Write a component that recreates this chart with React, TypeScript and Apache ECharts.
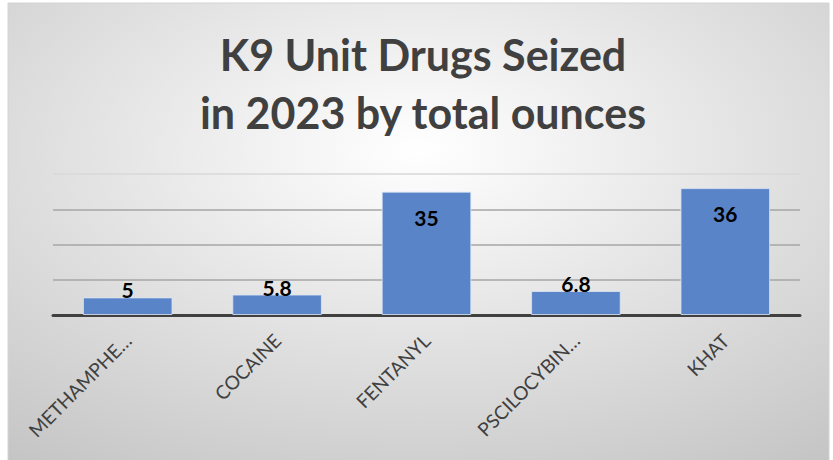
import React, { useEffect, useRef } from "react";
import * as echarts from "echarts";

const categories = ["METHAMPHE…", "COCAINE", "FENTANYL", "PSCILOCYBIN…", "KHAT"];
const ounces = [5, 5.8, 35, 6.8, 36];
const yMin = 0;
const yMax = 40;
const yInterval = 10;
const titleText = "K9 Unit Drugs Seized\nin 2023 by total ounces";

export default function App() {
  const ref = useRef<HTMLDivElement>(null);
  useEffect(() => {
    if (!ref.current) return;
    const chart = echarts.init(ref.current, undefined, { renderer: "svg" });
    const font = "Lato, 'Open Sans', sans-serif";
    chart.setOption({
      animation: false,
      graphic: [
        {
          type: "rect",
          z: -100,
          silent: true,
          shape: { x: 8, y: 3, width: 821, height: 458 },
          style: {
            fill: {
              type: "radial",
              x: 0.5,
              y: 0.32,
              r: 0.95,
              colorStops: [
                { offset: 0, color: "#ffffff" },
                { offset: 1, color: "#bdbdbd" },
              ],
            },
            stroke: "#d4d4d4",
            lineWidth: 1,
          },
        },
      ],
      title: {
        text: titleText,
        left: 418,
        top: 20,
        textAlign: "center",
        textStyle: {
          fontFamily: font,
          fontWeight: "bold",
          fontSize: 43,
          lineHeight: 58,
          color: "#404040",
        },
      },
      grid: { left: 53, right: 33, top: 174, bottom: 145, containLabel: false },
      xAxis: {
        type: "category",
        data: categories,
        axisLine: { show: true, lineStyle: { color: "#404040", width: 3 } },
        axisTick: { show: false },
        axisLabel: {
          rotate: 45,
          interval: 0,
          margin: 22,
          fontFamily: font,
          fontSize: 19,
          color: "#404040",
        },
      },
      yAxis: {
        type: "value",
        min: yMin,
        max: yMax,
        interval: yInterval,
        axisLine: { show: false },
        axisTick: { show: false },
        axisLabel: { show: false },
        splitLine: {
          show: true,
          lineStyle: {
            color: ["#a6a6a6", "#a6a6a6", "#a6a6a6", "#a6a6a6", "#d9d9d9"],
            width: 1.5,
          },
        },
      },
      series: [
        {
          type: "bar",
          data: ounces.map((v) => ({
            value: v,
            label:
              v > 20
                ? { position: "insideTop", distance: 15 }
                : { position: "top", distance: -3 },
          })),
          barWidth: "60%",
          itemStyle: {
            color: "#5a84c8",
            borderColor: "rgba(220,230,245,0.8)",
            borderWidth: 1,
          },
          label: {
            show: true,
            fontFamily: font,
            fontWeight: "bold",
            fontSize: 21,
            color: "#000000",
          },
        },
      ],
    });
    return () => chart.dispose();
  }, []);
  return (
    <div
      ref={ref}
      style={{ position: "absolute", left: 0, top: 0, width: 833, height: 460 }}
    />
  );
}
